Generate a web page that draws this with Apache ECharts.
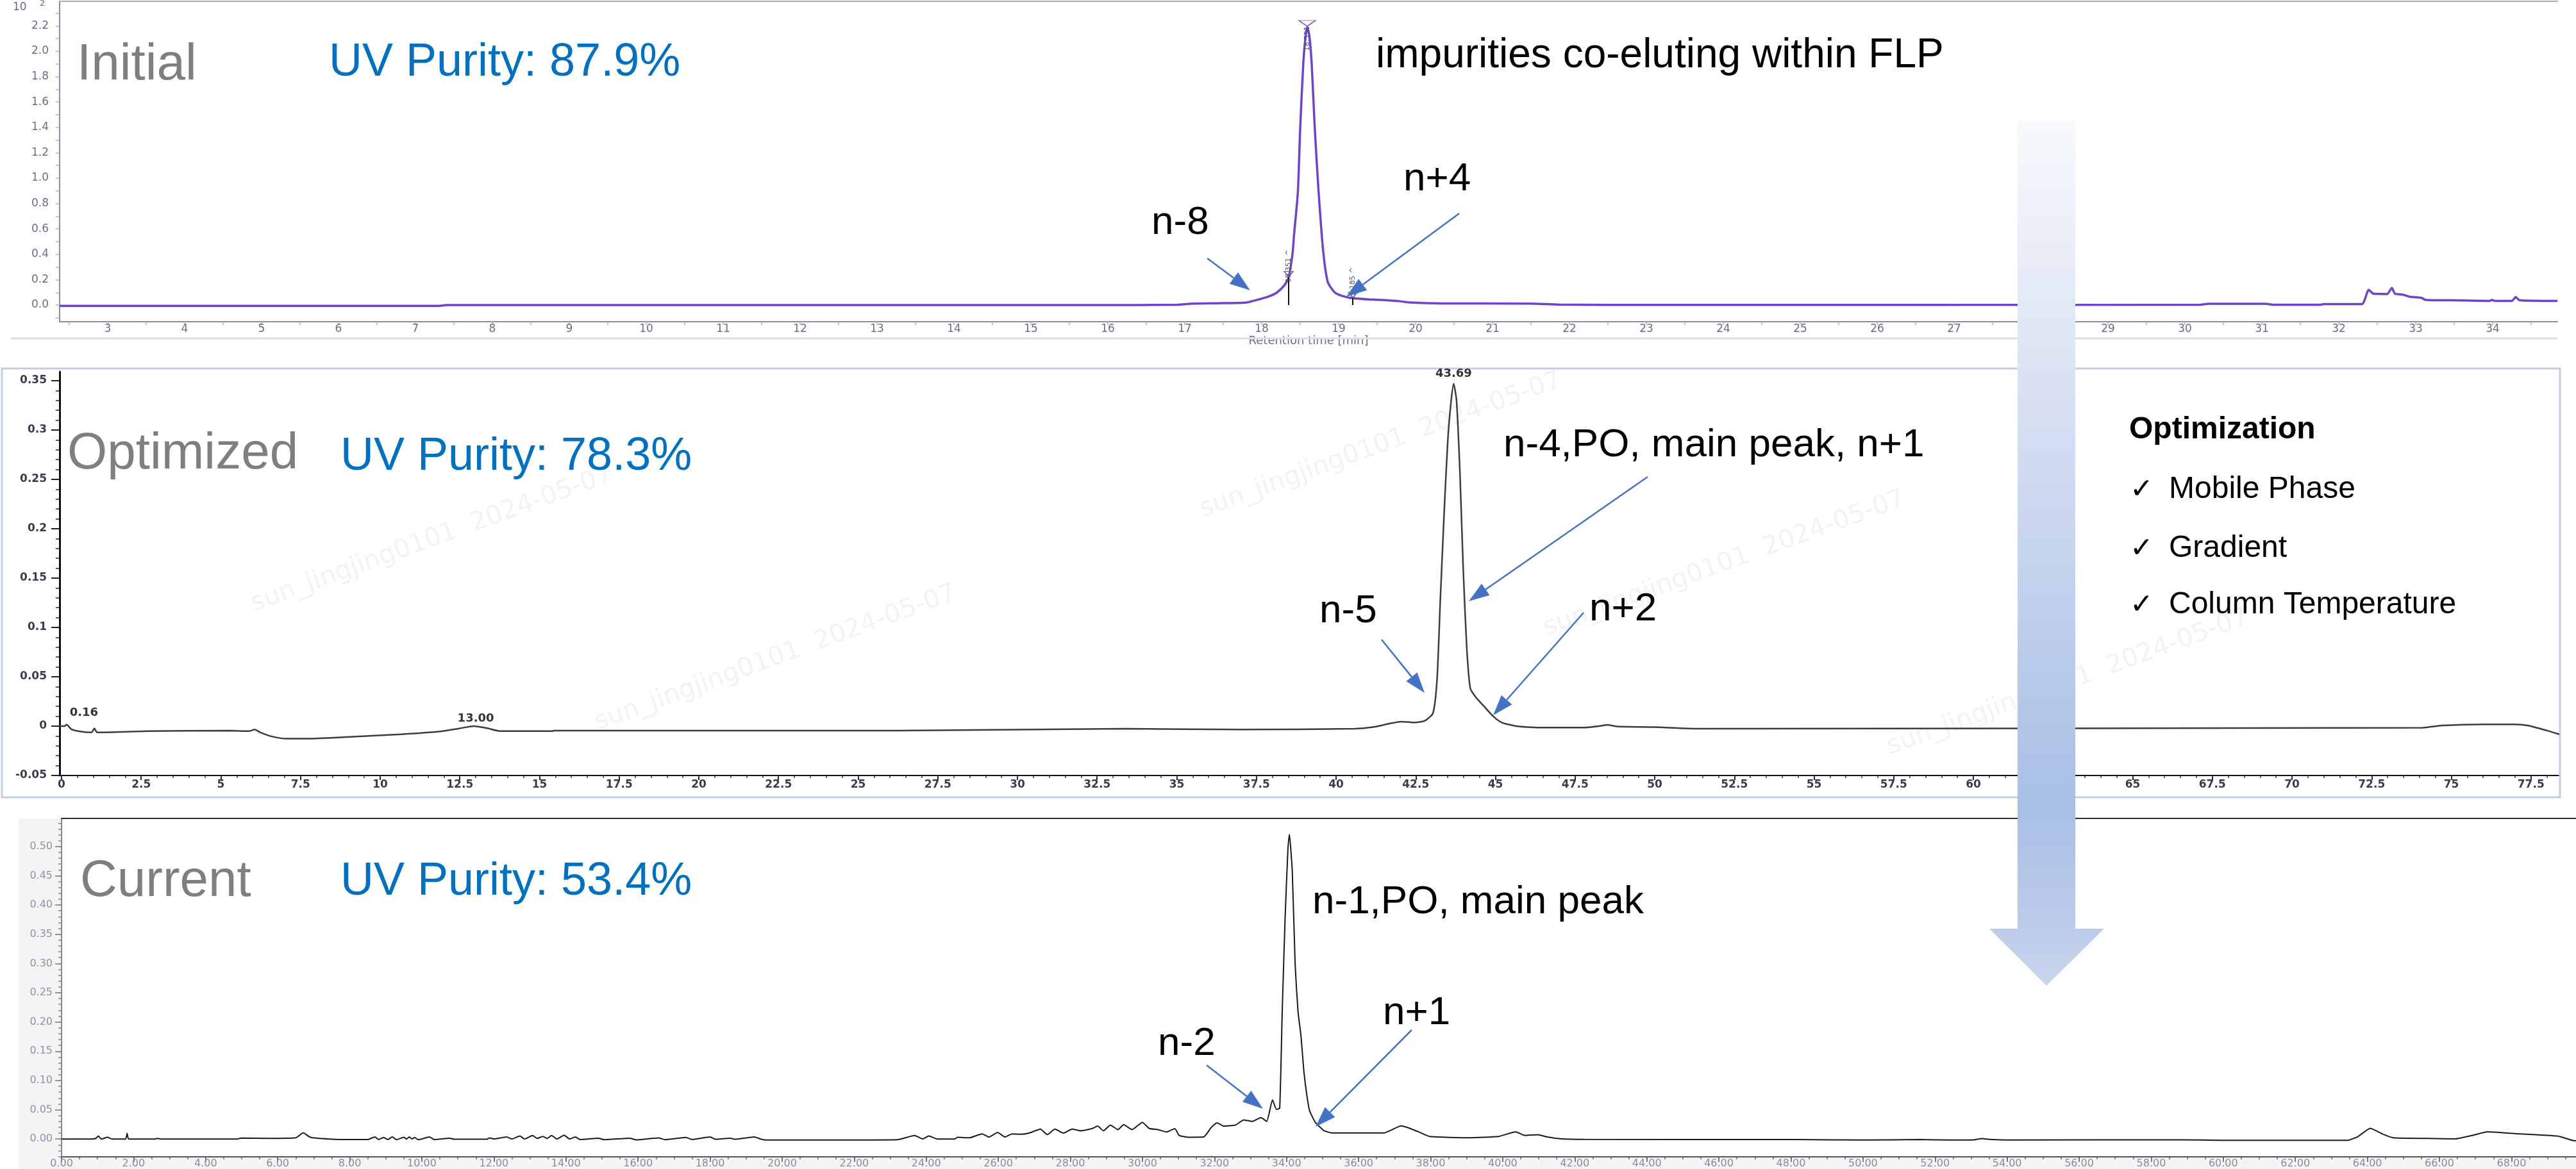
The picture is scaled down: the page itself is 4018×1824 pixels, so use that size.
<!DOCTYPE html>
<html>
<head>
<meta charset="utf-8">
<script src="https://cdn.jsdelivr.net/npm/echarts@6/dist/echarts.min.js"></script>
<style>html,body{margin:0;padding:0;background:#fff;}#chart{width:4018px;height:1824px;}</style>
</head>
<body>
<div id="chart"></div>
<script>
// ---------------- DATA ----------------
// Panel 1 "Initial": [retention time (min), signal (x10^2)]
const initialTrace = [
  [2.375,-0.006],[7.30,-0.006],[7.40,0.000],[15.80,0.000],[16.90,0.003],[17.10,0.012],[17.50,0.015],
  [17.80,0.020],[17.97,0.046],[18.10,0.070],[18.20,0.100],[18.30,0.160],[18.351,0.220],[18.40,0.400],
  [18.42,0.550],[18.47,0.890],[18.50,1.390],[18.54,1.900],[18.57,2.120],[18.591,2.190],[18.62,2.120],
  [18.65,1.900],[18.69,1.390],[18.74,0.890],[18.80,0.420],[18.86,0.180],[18.95,0.100],[19.05,0.072],
  [19.185,0.055],[19.40,0.045],[19.60,0.039],[19.80,0.030],[19.94,0.020],[20.36,0.013],[21.50,0.012],
  [21.87,0.004],[22.50,0.002],[30.20,0.003],[30.30,0.011],[31.05,0.011],[31.15,0.003],[31.77,0.003],
  [31.80,0.008],[32.30,0.008],[32.39,0.120],[32.45,0.090],[32.63,0.088],[32.69,0.135],[32.73,0.090],
  [32.83,0.083],[32.92,0.066],[33.07,0.058],[33.13,0.041],[33.49,0.038],[33.96,0.033],[33.99,0.041],
  [34.03,0.033],[34.25,0.033],[34.30,0.063],[34.35,0.038],[34.842,0.033]
];
// Panel 2 "Optimized"
const optimizedTrace = [
  [-0.06,0.000],[0.10,0.000],[0.16,0.0016],[0.31,-0.0032],[0.58,-0.0054],[0.94,-0.0064],[1.03,-0.0023],
  [1.12,-0.0064],[2.74,-0.0051],[5.26,-0.0045],[5.88,-0.0051],[6.06,-0.0035],[6.24,-0.0064],[6.60,-0.0105],
  [7.05,-0.0127],[7.77,-0.0127],[8.85,-0.0112],[10.65,-0.0083],[11.90,-0.0054],[12.44,-0.0026],[12.94,0.000],
  [13.34,-0.0020],[13.79,-0.0051],[15.41,-0.0051],[15.45,-0.0045],[26.24,-0.0045],[33.40,-0.0026],
  [37.00,-0.0035],[40.60,-0.0026],[41.15,-0.0010],[41.70,0.0027],[42.05,0.0046],[42.41,0.0037],[42.77,0.0052],
  [43.04,0.013],[43.17,0.048],[43.27,0.127],[43.40,0.222],[43.53,0.301],[43.69,0.347],[43.78,0.330],
  [43.89,0.254],[43.99,0.159],[44.10,0.080],[44.21,0.0386],[44.39,0.029],[44.66,0.0195],[44.93,0.010],
  [45.20,0.0037],[45.65,0.000],[46.37,-0.0015],[47.80,-0.0015],[48.25,0.000],[48.52,0.0013],[48.80,-0.0003],
  [49.96,-0.0010],[51.40,-0.0026],[74.10,-0.0016],[74.70,0.0006],[76.00,0.0018],[77.00,0.0018],
  [77.40,0.0006],[78.00,-0.0045],[78.39,-0.0083]
];
// Panel 3 "Current"
const currentTrace = [
  [0.00,0.000],[0.80,0.000],[0.95,0.001],[1.02,0.005],[1.10,0.000],[1.28,0.0028],[1.40,0.000],[1.78,0.000],
  [1.82,0.0098],[1.86,0.000],[2.60,0.000],[2.66,0.001],[2.75,0.000],[4.90,0.000],[4.97,0.0016],[5.80,0.001],
  [6.50,0.002],[6.71,0.0105],[6.90,0.003],[7.43,0.000],[7.98,-0.001],[8.50,-0.0008],[8.70,0.0034],
  [8.80,-0.001],[8.94,0.0026],[9.05,-0.001],[9.18,0.0034],[9.30,-0.0012],[9.50,0.0030],[9.58,0.000],
  [9.65,0.0034],[9.73,0.000],[9.80,0.0026],[9.90,-0.0012],[10.21,0.0034],[10.35,-0.001],[10.77,0.0014],
  [10.90,-0.0005],[11.80,-0.0005],[11.88,0.0018],[12.00,0.000],[12.35,0.0034],[12.50,0.000],[12.72,0.0050],
  [12.85,0.000],[13.07,0.0058],[13.20,0.001],[13.36,0.0042],[13.48,0.001],[13.60,0.0058],[13.75,0.000],
  [13.95,0.0066],[14.10,0.000],[14.26,0.0034],[14.40,-0.001],[14.90,0.0014],[15.05,-0.0012],[15.77,0.0014],
  [15.95,-0.0015],[16.57,0.0018],[16.75,-0.0012],[17.33,0.0026],[17.50,-0.0008],[18.00,0.0034],
  [18.15,-0.0005],[18.55,0.0014],[18.70,-0.0005],[19.23,0.0034],[19.40,0.000],[19.58,-0.0018],
  [21.00,-0.0018],[23.20,-0.0012],[23.68,0.006],[23.90,0.000],[24.07,0.005],[24.31,0.000],[24.79,0.000],
  [24.87,0.003],[25.19,0.002],[25.55,0.0088],[25.74,0.0034],[25.98,0.011],[26.19,0.0034],[26.38,0.0088],
  [26.62,0.008],[26.85,0.010],[27.17,0.0168],[27.36,0.0075],[27.57,0.0168],[27.81,0.010],[28.05,0.0168],
  [28.28,0.014],[28.60,0.0178],[28.76,0.022],[28.92,0.014],[29.11,0.0237],[29.32,0.016],[29.48,0.0245],
  [29.71,0.016],[30.00,0.0285],[30.19,0.018],[30.43,0.016],[30.67,0.012],[30.90,0.0178],[31.02,0.006],
  [31.30,0.003],[31.70,0.0034],[31.91,0.0197],[32.07,0.0277],[32.26,0.022],[32.58,0.0237],[32.81,0.0326],
  [33.05,0.030],[33.29,0.0366],[33.45,0.030],[33.61,0.0668],[33.72,0.0506],[33.81,0.0526],[33.88,0.2167],
  [33.96,0.377],[34.04,0.497],[34.08,0.521],[34.16,0.457],[34.24,0.297],[34.32,0.217],[34.40,0.177],
  [34.48,0.1164],[34.56,0.0764],[34.64,0.0483],[34.80,0.0283],[35.04,0.0143],[35.28,0.0102],[36.70,0.0102],
  [36.87,0.0143],[37.18,0.0223],[37.42,0.0183],[37.66,0.0123],[37.98,0.0042],[39.09,0.0022],[39.88,0.0042],
  [40.36,0.0123],[40.60,0.0062],[40.97,0.0074],[41.24,0.0034],[41.63,0.0002],[42.27,-0.0006],[48.10,-0.0010],
  [50.05,-0.0018],[51.57,-0.0010],[52.40,-0.0018],[53.09,-0.0014],[53.30,0.0006],[53.50,-0.0006],
  [54.06,-0.0018],[58.90,-0.0014],[59.90,-0.0022],[63.46,-0.0022],[63.74,0.0042],[64.08,0.0183],
  [64.43,0.0082],[64.71,0.0022],[65.67,0.0010],[66.44,0.0002],[66.92,0.0062],[67.33,0.0123],[68.16,0.009],
  [69.27,0.005],[69.68,-0.0022],[69.79,-0.003]
];

// tick / label values
function steps(a, b, s, d) { const out = []; for (let i = 0; a + i * s <= b + 1e-9; i++) out.push(+(a + i * s).toFixed(d)); return out; }
const p1XLabels = steps(3, 34, 1, 0);
const p1XTicks  = steps(2.5, 34.5, 0.5, 1);
const p1YLabels = steps(0, 2.2, 0.2, 1);
const p1YTicks  = steps(-0.1, 2.3, 0.1, 1);
const p2XLabels = steps(0, 77.5, 2.5, 1);
const p2XMinor  = steps(0, 78, 0.5, 1);
const p2YLabels = steps(-0.05, 0.35, 0.05, 2);
const p2YMinor  = steps(-0.05, 0.35, 0.01, 2);
const p3XLabels = steps(0, 68, 2, 0);
const p3XMinor  = steps(0, 69.5, 0.5, 1);
const p3YLabels = steps(0, 0.5, 0.05, 2);
const p3YMinor  = steps(-0.03, 0.54, 0.01, 2);

// ---------------- CHART ----------------
const chart = echarts.init(document.getElementById('chart'), null, {renderer: 'canvas'});
const TICKFONT = 'DejaVu Sans';
function hiddenAxis(grid, min, max, pos) {
  return {type: 'value', gridIndex: grid, min, max, position: pos,
    axisLine: {show: false, onZero: false}, axisTick: {show: false}, axisLabel: {show: false}, splitLine: {show: false}};
}
const xAxes = [
  { // 0 panel 1 bottom
    type: 'value', gridIndex: 0, min: 2.375, max: 34.842, position: 'bottom',
    axisLine: {show: true, onZero: false, lineStyle: {color: '#8c8ca0', width: 2}},
    axisTick: {show: true, customValues: p1XTicks, length: 5, lineStyle: {color: '#b0b0c0', width: 1.5}},
    axisLabel: {customValues: p1XLabels, fontSize: 17, fontFamily: TICKFONT, color: '#6c6c88', margin: 3},
    splitLine: {show: false},
    name: 'Retention time [min]', nameLocation: 'middle', nameGap: 21,
    nameTextStyle: {fontSize: 18, fontFamily: TICKFONT, color: '#6c6c88', verticalAlign: 'middle'}
  },
  Object.assign(hiddenAxis(0, 2.375, 34.842, 'top'), {axisLine: {show: true, onZero: false, lineStyle: {color: '#a8a8b0', width: 2}}}), // 1
  { // 2 panel 2 bottom
    type: 'value', gridIndex: 1, min: -0.06, max: 78.39, position: 'bottom',
    axisLine: {show: true, onZero: false, lineStyle: {color: '#111', width: 2}},
    axisTick: {show: true, customValues: p2XLabels, length: 7, lineStyle: {color: '#222', width: 2}},
    axisLabel: {customValues: p2XLabels, fontSize: 17, fontWeight: 'bold', fontFamily: TICKFONT, color: '#3a3a50', margin: 6},
    splitLine: {show: false}
  },
  Object.assign(hiddenAxis(1, -0.06, 78.39, 'bottom'), {axisTick: {show: true, customValues: p2XMinor, length: 4, lineStyle: {color: '#333', width: 1.5}}}), // 3
  { // 4 panel 3 bottom
    type: 'value', gridIndex: 2, min: 0, max: 69.79, position: 'bottom',
    axisLine: {show: true, onZero: false, lineStyle: {color: '#555', width: 2}},
    axisTick: {show: true, customValues: p3XLabels, length: 8, lineStyle: {color: '#555', width: 1.5}},
    axisLabel: {customValues: p3XLabels, formatter: v => v.toFixed(2), fontSize: 16, fontFamily: TICKFONT, color: '#8a8aa2', margin: 3},
    splitLine: {show: false}
  },
  Object.assign(hiddenAxis(2, 0, 69.79, 'bottom'), {axisTick: {show: true, customValues: p3XMinor, length: 4, lineStyle: {color: '#666', width: 1.5}}}), // 5
  Object.assign(hiddenAxis(2, 0, 69.79, 'top'), {axisLine: {show: true, onZero: false, lineStyle: {color: '#333', width: 2}}}) // 6
];
const yAxes = [
  { // 0 panel 1
    type: 'value', gridIndex: 0, min: -0.131, max: 2.394, position: 'left',
    axisLine: {show: true, onZero: false, lineStyle: {color: '#8c8ca0', width: 2}},
    axisTick: {show: true, customValues: p1YTicks, length: 6, lineStyle: {color: '#b0b0c0', width: 1.5}},
    axisLabel: {customValues: p1YLabels, formatter: v => v.toFixed(1), fontSize: 17, fontFamily: TICKFONT, color: '#6c6c88', margin: 17},
    splitLine: {show: false}
  },
  { // 1 panel 2
    type: 'value', gridIndex: 1, min: -0.05, max: 0.359, position: 'left',
    axisLine: {show: true, onZero: false, lineStyle: {color: '#111', width: 3}},
    axisTick: {show: true, customValues: p2YLabels, length: 13, lineStyle: {color: '#222', width: 2}},
    axisLabel: {customValues: p2YLabels, formatter: v => String(+v.toFixed(2)), fontSize: 17, fontWeight: 'bold', fontFamily: TICKFONT, color: '#3a3a50', margin: 20},
    splitLine: {show: false}
  },
  Object.assign(hiddenAxis(1, -0.05, 0.359, 'left'), {axisTick: {show: true, customValues: p2YMinor, length: 6, lineStyle: {color: '#222', width: 1.5}}}), // 2
  { // 3 panel 3
    type: 'value', gridIndex: 2, min: -0.0305, max: 0.548, position: 'left',
    axisLine: {show: true, onZero: false, lineStyle: {color: '#888', width: 2}},
    axisTick: {show: true, customValues: p3YLabels, length: 10, lineStyle: {color: '#777', width: 1.5}},
    axisLabel: {customValues: p3YLabels, formatter: v => v.toFixed(2), fontSize: 16, fontFamily: TICKFONT, color: '#9090a8', margin: 14},
    splitLine: {show: false}
  },
  Object.assign(hiddenAxis(2, -0.0305, 0.548, 'left'), {axisTick: {show: true, customValues: p3YMinor, length: 5, lineStyle: {color: '#888', width: 1.5}}}) // 4
];

const invisible = {color: 'rgba(0,0,0,0)', borderWidth: 0};
function tri(coord, size, off) {
  return {coord, symbol: 'triangle', symbolRotate: 180, symbolSize: size, symbolOffset: [0, off],
    itemStyle: {color: 'rgba(255,255,255,0)', borderColor: '#7a55d0', borderWidth: 1.5}, label: {show: false}};
}
function vlabel(coord, text) {
  return {coord, symbol: 'circle', symbolSize: 1, itemStyle: invisible,
    label: {show: true, formatter: text, rotate: 90, position: 'inside', fontSize: 11, fontFamily: TICKFONT, color: '#555'}};
}
function plabel(coord, text, pos, extra) {
  return {coord, symbol: 'circle', symbolSize: 1, itemStyle: invisible,
    label: Object.assign({show: true, formatter: text, position: pos, fontSize: 18, fontWeight: 'bold', fontFamily: TICKFONT, color: '#333'}, extra || {})};
}

// ---------------- GRAPHIC DECORATION ----------------
const G = [];
function txt(x, base, str, size, color, weight, family) {
  G.push({type: 'text', z: 60, x: x, y: base - 0.35 * size,
    style: {text: str, fill: color, fontSize: size, fontWeight: weight || 'normal', fontFamily: family || 'Liberation Sans',
      textAlign: 'left', textVerticalAlign: 'middle'}});
}
function arrow(x1, y1, x2, y2) {
  const dx = x2 - x1, dy = y2 - y1, L = Math.hypot(dx, dy), ux = dx / L, uy = dy / L;
  const hl = 32, hw = 11, bx = x2 - ux * hl, by = y2 - uy * hl;
  G.push({type: 'line', z: 60, shape: {x1: x1, y1: y1, x2: bx, y2: by}, style: {stroke: '#4472c4', lineWidth: 2.5}});
  G.push({type: 'polygon', z: 60, shape: {points: [[x2, y2], [bx - uy * hw, by + ux * hw], [bx + uy * hw, by - ux * hw]]}, style: {fill: '#4472c4'}});
}
// panel frames / backgrounds
G.push({type: 'rect', z: -10, shape: {x: 29, y: 1277, width: 3989, height: 547}, style: {fill: '#f4f4f4'}});
G.push({type: 'line', z: 1, shape: {x1: 17, y1: 528, x2: 3989, y2: 528}, style: {stroke: '#d9dde5', lineWidth: 3}});
G.push({type: 'rect', z: 1, shape: {x: 3, y: 575, width: 3990, height: 669}, style: {fill: 'none', stroke: '#c3cde0', lineWidth: 3}});
// faint watermark in panel 2
[[393, 944], [929, 1129], [1873, 797], [2409, 982], [2945, 1167]].forEach(p => {
  G.push({type: 'text', z: -5, x: p[0], y: p[1], rotation: 20 * Math.PI / 180,
    style: {text: 'sun_jingjing0101  2024-05-07', fontSize: 40, fontFamily: 'DejaVu Sans', fill: '#f3f3f3', textAlign: 'left', textVerticalAlign: 'middle'}});
});
// exponent label panel 1
G.push({type: 'text', z: 60, x: 20, y: 12, style: {text: '10', fontSize: 17, fontFamily: TICKFONT, fill: '#6c6c88', textAlign: 'left', textVerticalAlign: 'middle'}});
G.push({type: 'text', z: 60, x: 62, y: 6, style: {text: '2', fontSize: 13, fontFamily: TICKFONT, fill: '#6c6c88', textAlign: 'left', textVerticalAlign: 'middle'}});
// big gradient arrow
G.push({type: 'polygon', z: 50,
  shape: {points: [[3147, 189], [3237, 189], [3237, 1449], [3282, 1449], [3192, 1538], [3103, 1449], [3147, 1449]]},
  style: {fill: {type: 'linear', x: 0, y: 0, x2: 0, y2: 1, colorStops: [
    {offset: 0, color: '#f7f9fd'}, {offset: 0.25, color: '#dfe6f4'}, {offset: 0.79, color: '#a9bfe6'},
    {offset: 0.93, color: '#bccbea'}, {offset: 1, color: '#cad6ef'}]}}});
// panel 1 texts
txt(120, 130, 'Initial', 80, '#7f7f7f');
txt(513, 123, 'UV Purity: 87.9%', 72, '#0070c0');
txt(2146, 110, 'impurities co-eluting within FLP', 64, '#000');
txt(1796, 370, 'n-8', 62, '#000');
txt(2189, 302, 'n+4', 62, '#000');
arrow(1883, 403, 1950, 453);
arrow(2276, 333, 2100, 463);
// panel 2 texts
txt(105, 737, 'Optimized', 80, '#7f7f7f');
txt(531, 738, 'UV Purity: 78.3%', 72, '#0070c0');
txt(2345, 717, 'n-4,PO, main peak, n+1', 62, '#000');
txt(2058, 976, 'n-5', 62, '#000');
txt(2479, 973, 'n+2', 62, '#000');
arrow(2570, 744, 2291, 938);
arrow(2155, 998, 2222, 1081);
arrow(2470, 956, 2329, 1116);
txt(3321, 688, 'Optimization', 48, '#000', 'bold');
[['Mobile Phase', 781], ['Gradient', 873], ['Column Temperature', 961]].forEach(r => {
  txt(3322, r[1], '\u2713', 44, '#000', 'bold', 'DejaVu Sans');
  txt(3383, r[1], r[0], 48, '#000');
});
// panel 3 texts
txt(125, 1404, 'Current', 80, '#7f7f7f');
txt(531, 1401, 'UV Purity: 53.4%', 72, '#0070c0');
txt(2047, 1430, 'n-1,PO, main peak', 62, '#000');
txt(1806, 1651, 'n-2', 62, '#000');
txt(2157, 1603, 'n+1', 62, '#000');
arrow(1882, 1662, 1970, 1730);
arrow(2202, 1607, 2052, 1758);

const option = {
  animation: false,
  backgroundColor: '#fff',
  textStyle: {fontFamily: 'Liberation Sans'},
  grid: [
    {left: 93, top: 2, width: 3896, height: 500},
    {left: 93, top: 580, width: 3899, height: 630},
    {left: 96, top: 1277, width: 3922, height: 531, show: true, backgroundColor: '#fff', borderWidth: 0}
  ],
  xAxis: xAxes,
  yAxis: yAxes,
  series: [
    {
      name: 'Initial', type: 'line', xAxisIndex: 0, yAxisIndex: 0, data: initialTrace,
      showSymbol: false, smooth: 0.2, lineStyle: {color: '#6e44c8', width: 3.5}, z: 3,
      markLine: {silent: true, symbol: ['none', 'none'], label: {show: false}, lineStyle: {color: '#111', width: 2, type: 'solid'},
        data: [[{coord: [18.351, 0]}, {coord: [18.351, 0.22]}], [{coord: [19.185, 0]}, {coord: [19.185, 0.055]}]]},
      markPoint: {silent: true, data: [
        tri([18.591, 2.19], [26, 9], -6), vlabel([18.591, 2.10], '18.591'),
        tri([18.351, 0.22], [14, 8], -5), vlabel([18.351, 0.308], '18.351 ^'),
        tri([19.185, 0.055], [14, 8], -5), vlabel([19.185, 0.167], '19.185 ^')
      ]}
    },
    {
      name: 'Optimized', type: 'line', xAxisIndex: 2, yAxisIndex: 1, data: optimizedTrace,
      showSymbol: false, smooth: 0.2, lineStyle: {color: '#3c3c3c', width: 2.5}, z: 3,
      markPoint: {silent: true, data: [
        plabel([43.69, 0.347], '43.69', 'top', {distance: 6}),
        plabel([0.16, 0.0016], '0.16', 'inside', {offset: [27, -18]}),
        plabel([13.0, 0.0], '13.00', 'top', {distance: 2})
      ]}
    },
    {
      name: 'Current', type: 'line', xAxisIndex: 4, yAxisIndex: 3, data: currentTrace,
      showSymbol: false, smooth: 0.15, lineStyle: {color: '#1a1a1a', width: 2}, z: 3
    }
  ],
  graphic: {elements: G}
};
chart.setOption(option);
</script>
</body>
</html>
